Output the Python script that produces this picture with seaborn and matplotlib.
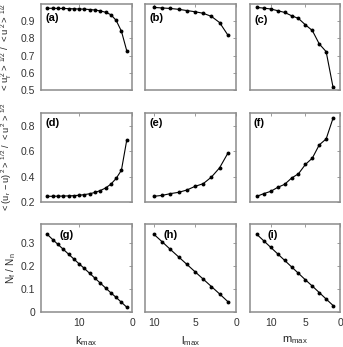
import matplotlib
matplotlib.use("Agg")
import matplotlib.pyplot as plt
import seaborn as sns
import pandas as pd

# ---------------- data ----------------
k_max = [16, 15, 14, 13, 12, 11, 10, 9, 8, 7, 6, 5, 4, 3, 2, 1]
l_max = [10, 9, 8, 7, 6, 5, 4, 3, 2, 1]
m_max = [12, 11, 10, 9, 8, 7, 6, 5, 4, 3, 2, 1]

# row 1: <u_r^2>^{1/2} / <u^2>^{1/2}
urms_k = [0.975, 0.975, 0.974, 0.974, 0.973, 0.972, 0.971, 0.970, 0.968, 0.965,
          0.960, 0.952, 0.938, 0.905, 0.842, 0.729]
urms_l = [0.980, 0.977, 0.974, 0.969, 0.962, 0.955, 0.946, 0.928, 0.892, 0.820]
urms_m = [0.980, 0.976, 0.971, 0.961, 0.951, 0.932, 0.916, 0.879, 0.846, 0.768,
          0.723, 0.515]

# row 2: <(u_r - u)^2>^{1/2} / <u^2>^{1/2}
err_k = [0.245, 0.245, 0.246, 0.247, 0.248, 0.250, 0.253, 0.258, 0.265, 0.275,
         0.290, 0.310, 0.340, 0.385, 0.450, 0.685]
err_l = [0.245, 0.252, 0.266, 0.276, 0.294, 0.323, 0.344, 0.396, 0.469, 0.583]
err_m = [0.245, 0.266, 0.284, 0.315, 0.339, 0.388, 0.422, 0.495, 0.545, 0.649,
         0.696, 0.860]

# row 3: N_f / N_n
nf_k = [0.335, 0.313, 0.292, 0.271, 0.250, 0.229, 0.208, 0.188, 0.167, 0.146,
        0.125, 0.104, 0.083, 0.063, 0.042, 0.021]
nf_l = [0.335, 0.303, 0.270, 0.238, 0.206, 0.174, 0.142, 0.110, 0.078, 0.045]
nf_m = [0.335, 0.307, 0.279, 0.251, 0.223, 0.195, 0.167, 0.139, 0.112, 0.084,
        0.056, 0.028]

panel_tags = ["(a)", "(b)", "(c)", "(d)", "(e)", "(f)", "(g)", "(h)", "(i)"]
x_labels = [r"$\mathregular{k_{max}}$", r"$\mathregular{l_{max}}$", r"$\mathregular{m_{max}}$"]
y_labels = [r"$<u_r^{\,2}>^{\,1/2}\ /\ <u^{\,2}>^{\,1/2}$",
            r"$<(u_r\,-u)^{\,2}>^{\,1/2}\ /\ <u^{\,2}>^{\,1/2}$",
            r"$N_f\ /\ N_n$"]
y_ticks = [[0.5, 0.6, 0.7, 0.8, 0.9], [0.2, 0.4, 0.6, 0.8], [0, 0.1, 0.2, 0.3]]
y_ticklabels = [["0.5", "0.6", "0.7", "0.8", "0.9"], ["0.2", "0.4", "0.6", "0.8"],
                ["0", "0.1", "0.2", "0.3"]]
x_ticks = [[10, 0], [10, 5, 0], [10, 5, 0]]
x_ticklabels = [["10", "0"], ["10", "5", "0"], ["10", "5", "0"]]

# ---------------- style ----------------
sns.set_style("white")
plt.rcParams["font.family"] = ["Liberation Sans", "DejaVu Sans"]
plt.rcParams["mathtext.default"] = "regular"

W, H = 343, 347
fig = plt.figure(figsize=(W / 100, H / 100), dpi=100)

cols = [(41, 132), (145, 236), (250, 340)]
rows = [(4, 90), (113, 202), (224, 312)]
xlims = [(17.2, 0), (11.1, 0), (13.0, 0)]
ylims = [(0.5, 1.0), (0.2, 0.9), (0, 0.38)]
tag_off = [(4, 14), (5, 14), (5, 16), (4, 10), (4, 10), (4, 10), (19, 11), (18, 11), (18, 11)]
ylab_size = [6.8, 6.6, 7.2]
ylab_x = [-0.30, -0.30, -0.25]

xs = [k_max, l_max, m_max]
ys = [[urms_k, urms_l, urms_m], [err_k, err_l, err_m], [nf_k, nf_l, nf_m]]

frame_col = "#8c8c8c"
for r in range(3):
    for c in range(3):
        x0, x1 = cols[c]
        y0, y1 = rows[r]
        ax = fig.add_axes([x0 / W, 1 - y1 / H, (x1 - x0) / W, (y1 - y0) / H])
        df = pd.DataFrame({"x": xs[c], "y": ys[r][c]})
        sns.lineplot(data=df, x="x", y="y", ax=ax, color="black", linewidth=0.8,
                     marker="o", markersize=2.8, markeredgewidth=0, sort=False)
        ax.set_xlim(*xlims[c])
        ax.set_ylim(*ylims[r])
        ax.set_xticks(x_ticks[c])
        ax.set_yticks(y_ticks[r])
        if r == 2:
            ax.set_xticklabels(x_ticklabels[c])
            ax.set_xlabel(x_labels[c], fontsize=8, color="#222222", labelpad=5)
        else:
            ax.set_xticklabels([])
            ax.set_xlabel("")
        if c == 0:
            ax.set_yticklabels(y_ticklabels[r])
            ax.set_ylabel(y_labels[r], fontsize=ylab_size[r], color="#222222")
            ax.yaxis.set_label_coords(ylab_x[r], 0.5)
        else:
            ax.set_yticklabels([])
            ax.set_ylabel("")
        ax.tick_params(direction="in", length=2.5, width=0.6, color=frame_col,
                       top=True, right=True, labelsize=7.5, labelcolor="#333333", pad=4)
        for sp in ax.spines.values():
            sp.set_color(frame_col)
            sp.set_linewidth(1.1)
        dx, dy = tag_off[r * 3 + c]
        ax.text(dx / (x1 - x0), 1 - dy / (y1 - y0), panel_tags[r * 3 + c],
                transform=ax.transAxes, ha="left", va="center", fontsize=8,
                fontweight="bold", color="black")

fig.savefig("out.png", dpi=100)
